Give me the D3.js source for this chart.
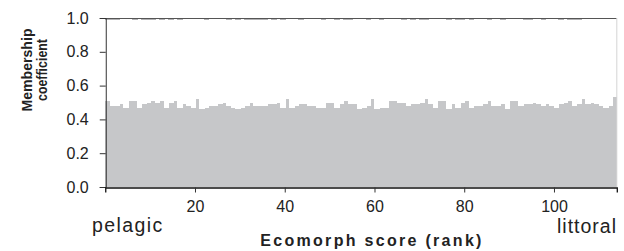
<!DOCTYPE html>
<html>
<head>
<meta charset="utf-8">
<script src="https://cdn.jsdelivr.net/npm/d3@7"></script>
<style>
  body { margin: 0; background: #fff; }
  svg { display: block; font-family: "Liberation Sans", Arial, sans-serif; }
</style>
</head>
<body>
<div id="chart"></div>
<script>
// membership of the first cluster (grey), rank 1..114
var lower = [
  0.51,0.48,0.48,0.49,0.47,0.51,0.51,0.47,0.49,0.50,0.51,0.50,0.51,0.47,0.50,0.51,0.47,0.49,0.48,0.47,0.52,0.46,0.47,0.48,0.48,0.49,0.50,0.48,0.47,
  0.46,0.47,0.48,0.50,0.48,0.48,0.48,0.49,0.49,0.50,0.47,0.52,0.47,0.48,0.49,0.49,0.48,0.48,0.47,0.47,0.50,0.50,0.47,0.49,0.51,0.49,0.49,0.46,0.47,
  0.48,0.52,0.46,0.47,0.47,0.51,0.51,0.50,0.50,0.48,0.49,0.49,0.50,0.52,0.49,0.47,0.51,0.51,0.46,0.49,0.47,0.50,0.51,0.47,0.48,0.48,0.49,0.51,0.48,
  0.48,0.49,0.46,0.51,0.51,0.48,0.49,0.49,0.50,0.49,0.48,0.49,0.48,0.47,0.49,0.50,0.51,0.48,0.49,0.52,0.49,0.50,0.49,0.48,0.47,0.48,0.53
];
// ranks whose bar shows a thin grey sliver at the very top
var topRanks = [1,2,3,7,9,10,11,13,15,17,23,28,30,32,33,34,35,36,38,40,44,49,52,54,55,
  59,62,67,69,71,72,77,79,80,82,86,89,94,95,98,102,104,105,106];
var yTicks = [0, 0.2, 0.4, 0.6, 0.8, 1.0];
var xTicks = [20, 40, 60, 80, 100];

var width = 624, height = 251;
var plotLeft = 105.25, plotRight = 616.8, plotTop = 18, plotBottom = 187;

var data = lower.map(function(v, i) {
  var rank = i + 1;
  var t = topRanks.indexOf(rank) >= 0 ? 0.013 : 0;
  return {rank: rank, low: v, mid: 1 - v - t, top: t};
});

var x = d3.scaleLinear().domain([0, 114]).range([plotLeft, plotRight]);
var y = d3.scaleLinear().domain([0, 1]).range([plotBottom, plotTop]);

var svg = d3.select("#chart").append("svg")
    .attr("width", width)
    .attr("height", height);

var stack = d3.stack().keys(["low", "mid", "top"]);
var series = stack(data);
var fills = {low: "#c6c7c9", mid: "#ffffff", top: "#b2b2b4"};

svg.append("g").selectAll("g")
    .data(series)
    .enter().append("g")
    .attr("fill", function(d) { return fills[d.key]; })
    .attr("shape-rendering", "crispEdges")
    .selectAll("rect")
    .data(function(d) { return d; })
    .enter().append("rect")
    .attr("x", function(d) { return x(d.data.rank - 1); })
    .attr("width", function(d) {
      return d.data.rank === 114 ? x(114) - x(113) : x(d.data.rank) - x(d.data.rank - 1) + 1;
    })
    .attr("y", function(d) { return y(d[1]); })
    .attr("height", function(d) { return Math.max(0, y(d[0]) - y(d[1])); });

// frame: dark top, light right
svg.append("line")
    .attr("x1", x(0)).attr("x2", x(114))
    .attr("y1", y(1) + 0.5).attr("y2", y(1) + 0.5)
    .attr("stroke", "#555").attr("stroke-width", 1);
svg.append("line")
    .attr("x1", x(114)).attr("x2", x(114))
    .attr("y1", y(1)).attr("y2", y(0))
    .attr("stroke", "#d4d4d4").attr("stroke-width", 1);

var yAxis = svg.append("g")
    .attr("transform", "translate(" + (plotLeft + 0.5) + ",0)")
    .call(d3.axisLeft(y).tickValues(yTicks).tickFormat(d3.format(".1f")).tickSize(6).tickPadding(11));
yAxis.select(".domain").attr("stroke", "#333");
yAxis.selectAll(".tick line").attr("stroke", "#333");
yAxis.selectAll("text").attr("font-size", 16).attr("fill", "#222")
    .attr("font-family", "Liberation Sans, Arial, sans-serif");

var xAxis = svg.append("g")
    .attr("transform", "translate(0," + (plotBottom + 0.5) + ")")
    .call(d3.axisBottom(x).tickValues(xTicks).tickSizeOuter(0).tickSize(5).tickPadding(8));
xAxis.select(".domain").attr("stroke", "#111").attr("stroke-width", 1.3);
xAxis.selectAll(".tick line").attr("stroke", "#333");
xAxis.selectAll("text").attr("font-size", 16).attr("fill", "#222")
    .attr("font-family", "Liberation Sans, Arial, sans-serif");

svg.append("text")
    .attr("x", 92).attr("y", 232)
    .attr("font-size", 19.5).attr("letter-spacing", 1.4).attr("fill", "#222")
    .text("pelagic");
svg.append("text")
    .attr("x", 617).attr("y", 233)
    .attr("text-anchor", "end")
    .attr("font-size", 19.5).attr("letter-spacing", 1).attr("fill", "#222")
    .text("littoral");

svg.append("text")
    .attr("x", 372).attr("y", 246)
    .attr("text-anchor", "middle")
    .attr("font-size", 16).attr("font-weight", "bold").attr("letter-spacing", 2.3)
    .attr("fill", "#222")
    .text("Ecomorph score (rank)");

var yTitle = svg.append("text")
    .attr("transform", "translate(0,70) rotate(-90)")
    .attr("text-anchor", "middle")
    .attr("font-size", 15.5).attr("font-weight", "bold")
    .attr("fill", "#222");
yTitle.append("tspan").attr("x", 0).attr("y", 32)
    .attr("textLength", 83).attr("lengthAdjust", "spacingAndGlyphs").text("Membership");
yTitle.append("tspan").attr("x", 0).attr("y", 46.5)
    .attr("textLength", 62).attr("lengthAdjust", "spacingAndGlyphs").text("coefficient");
</script>
</body>
</html>
